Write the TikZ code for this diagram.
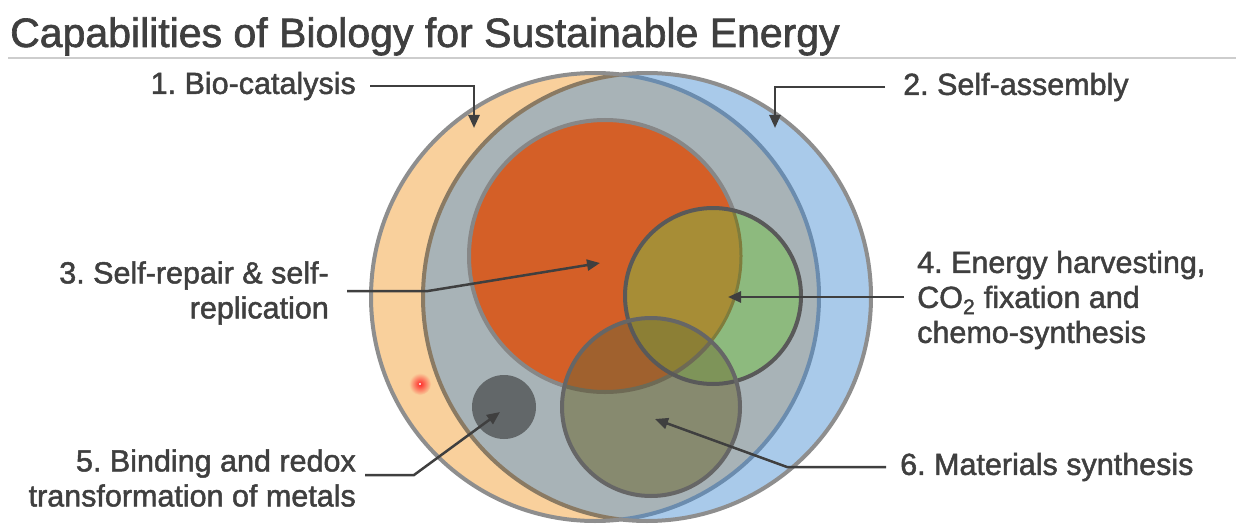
\documentclass[tikz,border=0pt]{standalone}
\usepackage{fontspec}
\setmainfont{Liberation Sans}
\newfontfamily\tagfont{Liberation Sans}[RawFeature={embolden=1.6}]
\usetikzlibrary{arrows.meta,positioning}
\usepackage{xcolor}
\frenchspacing
\definecolor{Ink}{HTML}{3F3F3F}
\definecolor{Rim}{HTML}{8E8E8E}
\definecolor{Rule}{HTML}{CDCDCD}
\definecolor{Peach}{HTML}{F9D09C}
\definecolor{Sky}{HTML}{A9CAEA}
\definecolor{Lens}{HTML}{A8B3B7}
\definecolor{PeachEdge}{HTML}{8A7A63}
\definecolor{SkyEdge}{HTML}{6B8CAE}
\definecolor{Rust}{HTML}{D45F27}
\definecolor{Leaf}{HTML}{8DBA7E}
\definecolor{LeafRust}{HTML}{A78D36}
\definecolor{Moss}{HTML}{878A6F}
\definecolor{MossRust}{HTML}{A0612E}
\definecolor{MossLeaf}{HTML}{7E9459}
\definecolor{MossBoth}{HTML}{8C7F35}
\definecolor{MossEdge}{HTML}{6E6A55}
\definecolor{Slate}{HTML}{626769}

\begin{document}
\begin{tikzpicture}[x=1pt,y=-1pt,
    tag/.style={text=Ink,inner sep=0pt,font=\tagfont\fontsize{30.5}{35}\selectfont},
    arrow/.style={-{Triangle[length=13pt,width=11pt]},line width=2.5pt,draw=Ink},
    rim/.style={draw=Rim,line width=4pt},
    ring/.style={line width=4pt}
  ]
    \useasboundingbox (0,0) rectangle (1236,524);
    % title
    \node[anchor=base west,text=Ink,inner sep=0pt,font=\tagfont\fontsize{41}{45}\selectfont] (title) at (10,47) {Capabilities of Biology for Sustainable Energy};
    \draw[Rule,line width=1.5pt] (8,58) -- (1236,58);

    \coordinate (oc) at (595,297);  % bio-catalysis
    \coordinate (bc) at (647,297);  % self-assembly
    \coordinate (rc) at (605,256);  % self-repair
    \coordinate (gc) at (713,296);  % energy
    \coordinate (mc) at (651,407);  % materials
    \coordinate (dc) at (504,407);  % metals

    % two big discs and their overlap
    \fill[Peach] (oc) circle[radius=224pt];
    \fill[Sky] (bc) circle[radius=224pt];
    \begin{scope}
      \clip (oc) circle[radius=224pt];
      \fill[Lens] (bc) circle[radius=224pt];
      \draw[ring,PeachEdge] (bc) circle[radius=224pt];
    \end{scope}
    \begin{scope}
      \clip (bc) circle[radius=224pt];
      \draw[ring,SkyEdge] (oc) circle[radius=224pt];
    \end{scope}
    \begin{scope}
      \clip (0,0) rectangle (621,524);
      \draw[rim] (oc) circle[radius=224pt];
    \end{scope}
    \begin{scope}
      \clip (621,0) rectangle (1236,524);
      \draw[rim] (bc) circle[radius=224pt];
    \end{scope}
    \shade[inner color=red!85,outer color=Peach] (420,384) circle[radius=11pt];
    \fill[white] (420,384) circle[radius=1.2pt];

    % inner circles
    \fill[Rust] (rc) circle[radius=136pt];
    \draw[ring,Rim!95!black] (rc) circle[radius=136pt];
    \fill[Leaf] (gc) circle[radius=88pt];
    \begin{scope}
      \clip (rc) circle[radius=136pt];
      \fill[LeafRust] (gc) circle[radius=88pt];
    \end{scope}
    \begin{scope}
      \clip (gc) circle[radius=88pt];
      \draw[line width=3pt,LeafRust!70!Leaf!80!black] (rc) circle[radius=136pt];
    \end{scope}
    \draw[ring,black!65] (gc) circle[radius=88pt];
    \begin{scope}
      \clip (mc) circle[radius=89pt];
      \fill[Moss] (mc) circle[radius=89pt];
      \fill[MossRust] (rc) circle[radius=136pt];
      \fill[MossLeaf] (gc) circle[radius=88pt];
      \begin{scope}
        \clip (rc) circle[radius=136pt];
        \fill[MossBoth] (gc) circle[radius=88pt];
      \end{scope}
      \draw[ring,MossEdge] (rc) circle[radius=136pt];
      \draw[ring,black!65] (gc) circle[radius=88pt];
    \end{scope}
    \draw[ring,black!60] (mc) circle[radius=89pt];
    \fill[Slate] (dc) circle[radius=32pt];

    % labels
    \node[tag,anchor=east] (l1) at (356,86) {1. Bio-catalysis};
    \node[tag,anchor=west] (l2) at (903,87) {2. Self-assembly};
    \node[tag,anchor=east,align=right] (l3) at (329,293) {3. Self-repair \& self-\\replication};
    \node[tag,anchor=west,align=left] (l4) at (917,300) {4. Energy harvesting,\\CO\textsubscript{2} fixation and\\chemo-synthesis};
    \node[tag,anchor=east,align=right] (l5) at (356,478) {5. Binding and redox\\transformation of metals};
    \node[tag,anchor=west] (l6) at (900,467) {6. Materials synthesis};

    \coordinate (t1) at (474,128);
    \coordinate (t2) at (775,128);
    \coordinate (c3) at (428,291);
    \coordinate (t3) at (600,263);
    \coordinate (t4) at (728,297);
    \coordinate (c5) at (414,475);
    \coordinate (t5) at (500,412);
    \coordinate (c6) at (787,467);
    \coordinate (t6) at (655,419);

    \draw[arrow,shorten <=14pt] (l1.east) -| (t1);
    \draw[arrow,shorten <=18pt] (l2.west) -| (t2);
    \draw[arrow] (l3.east) ++(18,-2) -- (c3) -- (t3);
    \draw[arrow] (l4.west) ++(-13,-3) -- (t4);
    \draw[arrow] (l5.east) ++(9,-3) -- (c5) -- (t5);
    \draw[arrow,shorten <=14pt] (l6.west) -- (c6) -- (t6);
  \end{tikzpicture}
\end{document}
